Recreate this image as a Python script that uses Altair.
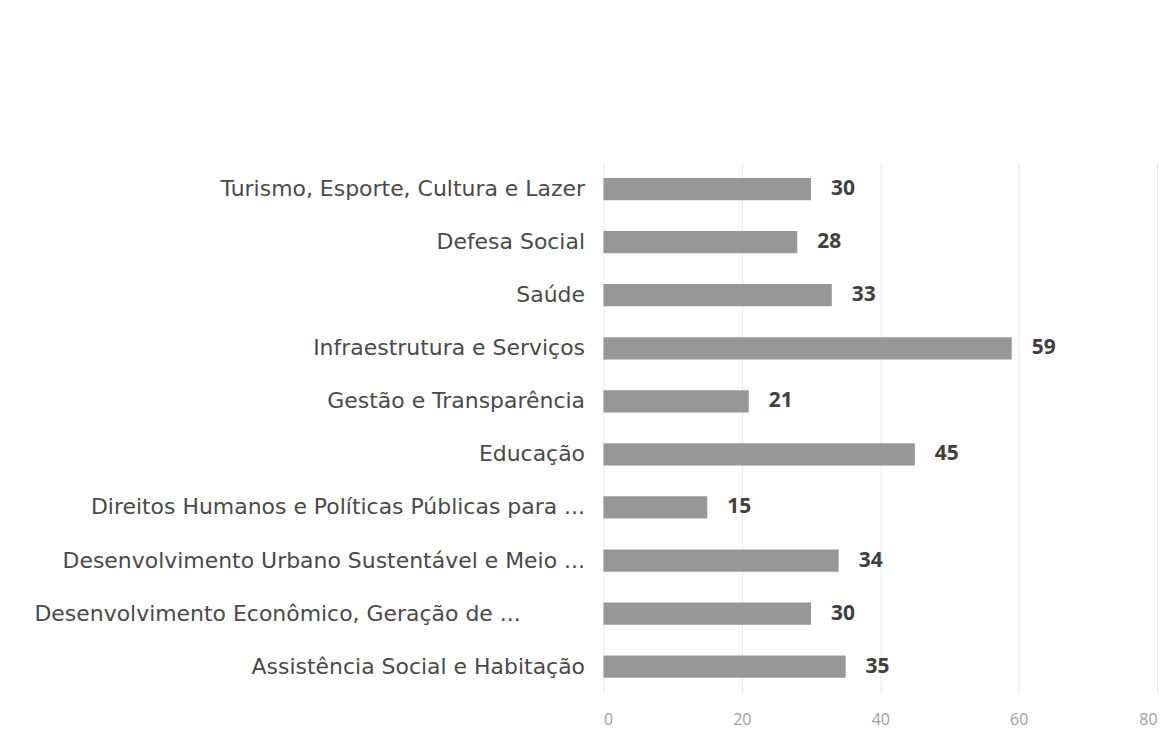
import altair as alt
import pandas as pd

categories = [
    "Turismo, Esporte, Cultura e Lazer",
    "Defesa Social",
    "Saúde",
    "Infraestrutura e Serviços",
    "Gestão e Transparência",
    "Educação",
    "Direitos Humanos e Políticas Públicas para ...",
    "Desenvolvimento Urbano Sustentável e Meio ...",
    "Desenvolvimento Econômico, Geração de ...\u2800\u2800\u2800\u2800",
    "Assistência Social e Habitação",
]
values = [30, 28, 33, 59, 21, 45, 15, 34, 30, 35]
x_ticks = [0, 20, 40, 60, 80]

df = pd.DataFrame({"cat": categories, "val": values})

y = alt.Y("cat:N", sort=categories, title=None,
          scale=alt.Scale(paddingInner=0.58, paddingOuter=0.29),
          axis=alt.Axis(labelFont="DejaVu Sans", labelFontSize=22,
                        labelColor="#4a4a4a",
                        labelPadding=19, ticks=False, domain=False, labelLimit=700))
x = alt.X("val:Q", title=None,
          scale=alt.Scale(domain=[0, 80], nice=False),
          axis=alt.Axis(values=x_ticks, grid=True, gridColor="#e8e8e8", gridWidth=1,
                        labelFont="Open Sans", labelFontSize=16, labelColor="#a0a0a0",
                        labelPadding=18, ticks=False, domain=False))

bars = alt.Chart(df).mark_bar(color="#979797").encode(x=x, y=y)
text = alt.Chart(df).mark_text(align="left", dx=20, font="Open Sans", fontSize=21,
                               fontWeight="bold", color="#404040").encode(
    x=alt.X("val:Q"), y=alt.Y("cat:N", sort=categories), text="val:Q")

chart = (bars + text).properties(
    width=555, height=532,
    background="white",
    autosize=alt.AutoSizeParams(type="none"),
    padding={"left": 597, "top": 154, "right": 10, "bottom": 50},
).configure_view(strokeWidth=0)

chart.save("out.html", embed_options={"renderer": "svg", "actions": False})
